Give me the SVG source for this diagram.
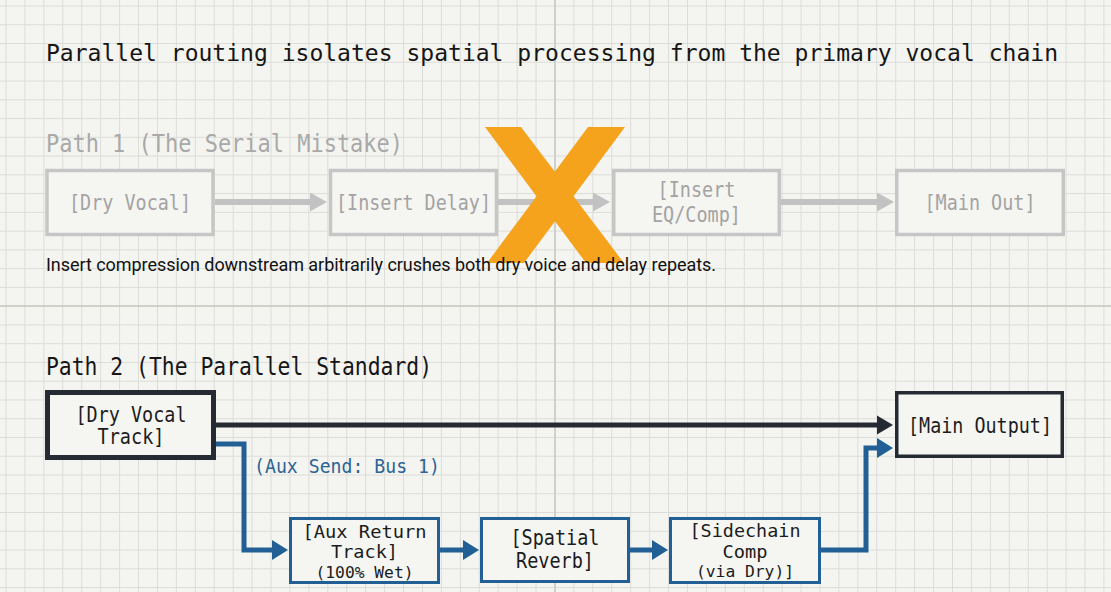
<svg xmlns="http://www.w3.org/2000/svg" width="1111" height="592" viewBox="0 0 1111 592">
<style>
.mono{font-family:"DejaVu Sans Mono","Liberation Mono",monospace}
.title{font-size:23.5px;fill:#161616}
.h1{font-size:25px;fill:#a9a9a9}
.h2{font-size:24.5px;fill:#161616}
.gbox{fill:#f5f5f2;stroke:#c6c6c6;stroke-width:3.5}
.gtxt{font-size:20.5px;fill:#a3a3a3;text-anchor:middle}
.dtxt{font-size:20.5px;fill:#1c1c1c;text-anchor:middle}
.ttxt{font-size:18px;fill:#1c1c1c;text-anchor:middle}
.stxt{font-size:16px;fill:#1c1c1c;text-anchor:middle}
.bbox{fill:#f5f5f2;stroke:#215f95;stroke-width:3}
.dbox{fill:#f5f5f2;stroke:#262b33}
.gline{fill:none;stroke:#c2c2c2;stroke-width:6}
.dline{fill:none;stroke:#262b33;stroke-width:5}
.bline{fill:none;stroke:#215f95;stroke-width:5;stroke-linejoin:miter}
.cap{font-family:Roboto,"Liberation Sans",sans-serif;font-size:18px;fill:#111}
.blab{font-size:20px;fill:#2c6496}
</style>
<defs>
<pattern id="grid" patternUnits="userSpaceOnUse" x="5.5" y="5.5" width="18.93" height="18.76">
<rect x="0" y="0" width="18.93" height="1" fill="#dcdcd8"/>
<rect x="0" y="0" width="1" height="18.76" fill="#dcdcd8"/>
</pattern>
<marker id="ag" markerUnits="userSpaceOnUse" markerWidth="18" markerHeight="20" viewBox="0 -10 18 20" refX="1" refY="0" orient="auto"><path d="M0 -9.5 L17 0 L0 9.5 z" fill="#c2c2c2"/></marker>
<marker id="ad" markerUnits="userSpaceOnUse" markerWidth="18" markerHeight="20" viewBox="0 -10 18 20" refX="1" refY="0" orient="auto"><path d="M0 -9.5 L16 0 L0 9.5 z" fill="#262b33"/></marker>
<marker id="ab" markerUnits="userSpaceOnUse" markerWidth="18" markerHeight="22" viewBox="0 -11 18 22" refX="1" refY="0" orient="auto"><path d="M0 -10 L16 0 L0 10 z" fill="#215f95"/></marker>
</defs>
<rect width="1111" height="592" fill="#f4f4f0"/>
<rect width="1111" height="592" fill="url(#grid)"/>
<line x1="555" y1="0" x2="555" y2="592" stroke="#c8c8c3" stroke-width="1.5"/>
<line x1="0" y1="306" x2="1111" y2="306" stroke="#c8c8c3" stroke-width="1.5"/>

<text class="mono title" x="46" y="61" textLength="1012" lengthAdjust="spacingAndGlyphs">Parallel routing isolates spatial processing from the primary vocal chain</text>
<text class="mono h1" x="46" y="152" textLength="357" lengthAdjust="spacingAndGlyphs">Path 1 (The Serial Mistake)</text>
<text class="mono h2" x="46" y="375" textLength="386" lengthAdjust="spacingAndGlyphs">Path 2 (The Parallel Standard)</text>

<g id="connectors">
<path class="gline" d="M215 202 H311" marker-end="url(#ag)"/>
<path class="gline" d="M498 202 H594" marker-end="url(#ag)"/>
<path class="gline" d="M781 202 H878" marker-end="url(#ag)"/>
<path class="dline" d="M216 425 H878" marker-end="url(#ad)"/>
<path class="bline" d="M216 444 H244 V550 H273" marker-end="url(#ab)"/>
<path class="bline" d="M440 550 H464" marker-end="url(#ab)"/>
<path class="bline" d="M630 550 H653" marker-end="url(#ab)"/>
<path class="bline" d="M821 550 H866 V448 H878" marker-end="url(#ab)"/>
</g>

<g id="p1-dry">
<rect class="gbox" x="47" y="170.5" width="166" height="64"/>
<text class="mono gtxt" x="130" y="210" textLength="122" lengthAdjust="spacingAndGlyphs">[Dry Vocal]</text>
</g>
<g id="p1-delay">
<rect class="gbox" x="330.5" y="170.5" width="166" height="64"/>
<text class="mono gtxt" x="413.5" y="210" textLength="155" lengthAdjust="spacingAndGlyphs">[Insert Delay]</text>
</g>
<g id="p1-eq">
<rect class="gbox" x="613.75" y="170.5" width="165.5" height="64"/>
<text class="mono gtxt" x="696.5" y="197" textLength="78" lengthAdjust="spacingAndGlyphs">[Insert</text>
<text class="mono gtxt" x="696.5" y="222" textLength="89" lengthAdjust="spacingAndGlyphs">EQ/Comp]</text>
</g>
<g id="p1-main">
<rect class="gbox" x="896.75" y="170.5" width="166.5" height="64"/>
<text class="mono gtxt" x="980" y="210" textLength="111" lengthAdjust="spacingAndGlyphs">[Main Out]</text>
</g>

<g id="cross">
<polygon points="485,127 521,127 624,263 586,263" fill="#f5a31c"/>
<polygon points="588,127 625,127 524,263 487,263" fill="#f5a31c"/>
</g>

<text class="cap" x="46" y="271" textLength="670" lengthAdjust="spacing">Insert compression downstream arbitrarily crushes both dry voice and delay repeats.</text>

<g id="p2-dry">
<rect class="dbox" x="47.5" y="392.5" width="166" height="65" stroke-width="5"/>
<text class="mono dtxt" x="131" y="422" textLength="111" lengthAdjust="spacingAndGlyphs">[Dry Vocal</text>
<text class="mono dtxt" x="131" y="444" textLength="67" lengthAdjust="spacingAndGlyphs">Track]</text>
</g>
<g id="p2-main">
<rect class="dbox" x="896.75" y="392.75" width="165.5" height="63.5" stroke-width="3.5"/>
<text class="mono dtxt" x="980" y="433" textLength="144" lengthAdjust="spacingAndGlyphs">[Main Output]</text>
</g>
<text class="mono blab" x="254" y="473" textLength="186" lengthAdjust="spacingAndGlyphs">(Aux Send: Bus 1)</text>
<g id="p2-aux">
<rect class="bbox" x="290.5" y="518.5" width="148" height="64"/>
<text class="mono ttxt" x="364.5" y="538" textLength="124" lengthAdjust="spacingAndGlyphs">[Aux Return</text>
<text class="mono ttxt" x="364.5" y="558" textLength="67" lengthAdjust="spacingAndGlyphs">Track]</text>
<text class="mono stxt" x="364.5" y="578" textLength="98" lengthAdjust="spacingAndGlyphs">(100% Wet)</text>
</g>
<g id="p2-reverb">
<rect class="bbox" x="481.5" y="518.5" width="147" height="63"/>
<text class="mono dtxt" x="555" y="545" textLength="89" lengthAdjust="spacingAndGlyphs">[Spatial</text>
<text class="mono dtxt" x="555" y="568" textLength="78" lengthAdjust="spacingAndGlyphs">Reverb]</text>
</g>
<g id="p2-comp">
<rect class="bbox" x="670.5" y="518.5" width="149" height="64"/>
<text class="mono ttxt" x="745" y="537" textLength="111" lengthAdjust="spacingAndGlyphs">[Sidechain</text>
<text class="mono ttxt" x="745" y="558" textLength="45" lengthAdjust="spacingAndGlyphs">Comp</text>
<text class="mono stxt" x="745" y="577" textLength="98" lengthAdjust="spacingAndGlyphs">(via Dry)]</text>
</g>
</svg>
